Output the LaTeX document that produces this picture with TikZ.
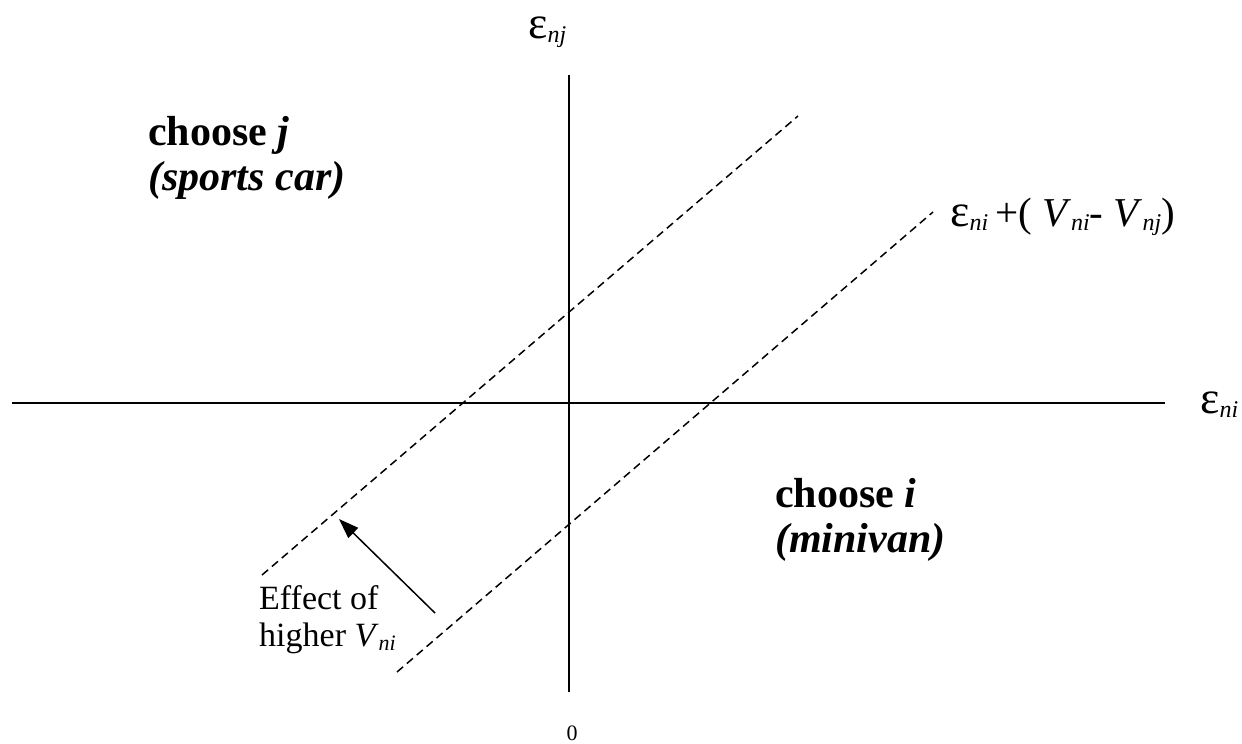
\documentclass[tikz,border=0pt]{standalone}
\usepackage{fontspec}
\setmainfont{Liberation Serif}
\usetikzlibrary{arrows.meta}
\newcommand{\lsub}[2][24]{\raisebox{-0.12em}{\fontsize{#1}{#1}\selectfont\itshape #2}}
\newcommand{\eps}{{\fontsize{46}{46}\selectfont ε}}
\begin{document}
\begin{tikzpicture}[x=1pt,y=-1pt,
  axis/.style={line width=2pt},
  level/.style={line width=1.5pt,dash pattern=on 8pt off 5pt},
  elabel/.style={inner sep=0pt,anchor=base west,font=\fontsize{41}{41}\selectfont},
  region/.style={inner sep=0pt,anchor=base west,font=\fontsize{42}{42}\selectfont\bfseries},
  note/.style={inner sep=0pt,anchor=base west,font=\fontsize{34}{34}\selectfont}]
\useasboundingbox (0,0) rectangle (1242,744);
% axes
\coordinate (xl) at (12,403);
\coordinate (xr) at (1165,403);
\coordinate (yt) at (569,75);
\coordinate (yb) at (569,692);
\draw[axis] (xl) -- (xr);
\draw[axis] (yt) -- (yb);
\node[elabel] (enj) at (528,38) {\eps\lsub{nj}};
\node[elabel] (eni) at (1200,413) {\eps\lsub{ni}};
\node[font=\fontsize{22}{22}\selectfont] (zero) at (572,733) {0};
% boundary lines
\coordinate (a1) at (262,575);
\coordinate (a2) at (798,116);
\coordinate (b1) at (397,672);
\coordinate (b2) at (933,212);
\draw[level] (a1) -- (a2);
\draw[level] (b1) -- (b2);
\node[elabel] (bound) at (950,226) {\eps\lsub{ni}\,+( \textit{V}\lsub{ni}- \textit{V}\lsub{nj})};
% regions
\node[region] (cj) at (148,145) {choose \textit{j}};
\node[region] (cjname) at (148,190) {\itshape (sports car)};
\node[region] (ci) at (775,507) {choose \textit{i}};
\node[region] (ciname) at (775,552) {\itshape (minivan)};
% shift of the line
\node[note] (eff) at (259,609) {Effect of};
\node[note] (hig) at (259,646) {higher \textit{V}\lsub[22]{ni}};
\coordinate (atail) at (435,613);
\coordinate (ahead) at (339,519);
\draw[line width=1.5pt,-{Triangle[length=20pt,width=14pt]}] (atail) -- (ahead);
\end{tikzpicture}
\end{document}
